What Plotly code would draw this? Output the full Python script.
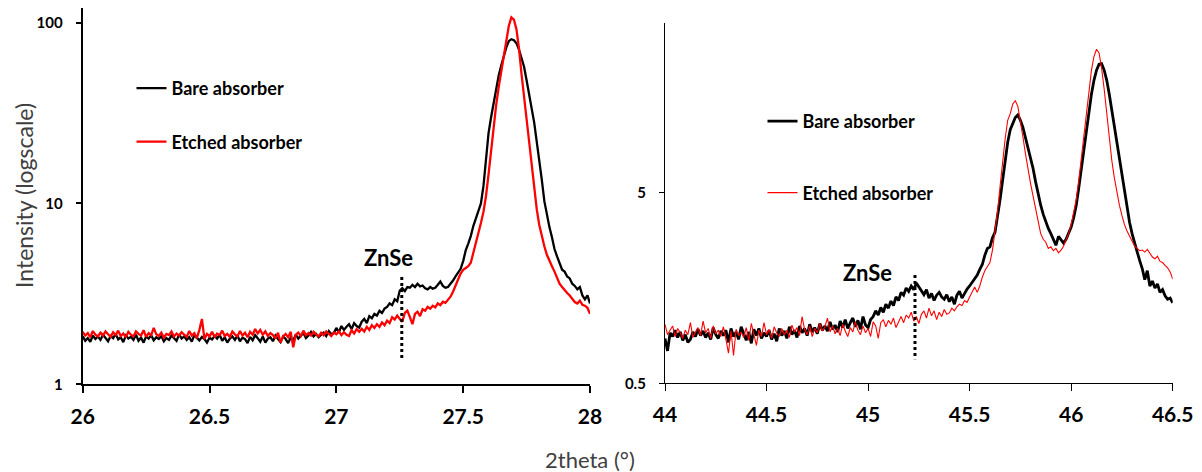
import numpy as np
import plotly.graph_objects as go

# ---------------- data ----------------
# Left panel: 2theta 26.00 .. 28.00, step 0.01
left_x_start, left_x_step = 26.0, 0.01
left_bare = [
    1.85,1.74,1.80,1.72,1.86,1.78,1.84,1.76,1.88,1.79,
    1.73,1.85,1.80,1.90,1.77,1.82,1.71,1.86,1.79,1.83,
    1.76,1.88,1.74,1.81,1.70,1.84,1.79,1.87,1.75,1.82,
    1.78,1.85,1.73,1.80,1.76,1.86,1.81,1.74,1.89,1.79,
    1.84,1.76,1.82,1.72,1.87,1.80,1.75,1.83,1.78,1.70,
    1.81,1.77,1.85,1.79,1.88,1.74,1.82,1.70,1.79,1.84,
    1.76,1.86,1.73,1.81,1.78,1.69,1.83,1.75,1.87,1.80,
    1.72,1.84,1.70,1.79,1.82,1.73,1.86,1.78,1.71,1.84,
    1.78,1.69,1.81,1.75,1.88,1.79,1.85,1.92,1.80,1.86,
    1.95,1.84,1.90,1.82,1.88,1.93,1.85,1.97,1.89,1.92,
    2.05,1.94,2.10,2.00,2.08,2.15,2.02,2.18,2.10,2.06,
    2.22,2.30,2.18,2.38,2.32,2.45,2.40,2.55,2.48,2.62,
    2.68,2.80,2.74,2.95,2.88,3.30,3.40,3.28,3.45,3.42,
    3.55,3.45,3.60,3.48,3.52,3.40,3.35,3.45,3.38,3.42,
    3.55,3.70,3.50,3.42,3.45,3.58,3.75,3.95,4.15,4.35,
    4.8,5.5,6.0,6.6,7.5,8.3,9.0,10.0,12.5,18.0,
    24.5,30,36,43,51,58,66,73,79,81,
    80,77,71,64,57,48,40,33,28,22,
    17.5,13.5,10.3,8.6,7.4,6.5,5.6,5.1,4.7,4.3,
    4.2,3.95,3.85,3.6,3.5,3.35,3.45,3.1,2.95,3.1,
    2.8,
]
left_etched = [
    1.95,1.86,1.92,1.82,1.97,1.88,1.84,1.93,1.86,1.96,
    1.89,1.83,1.94,1.87,1.98,1.85,1.91,1.82,1.95,1.88,
    1.84,1.96,1.90,1.86,1.99,1.83,1.92,1.87,2.05,1.89,
    1.85,1.93,1.81,1.90,1.87,1.96,1.84,1.91,1.86,1.94,
    1.88,1.83,1.97,1.86,1.92,1.80,2.00,2.30,1.78,1.90,
    1.84,1.95,1.82,1.91,1.87,1.98,1.85,1.90,1.83,1.96,
    1.89,1.84,1.97,1.86,1.93,1.82,1.95,1.88,2.02,1.91,
    2.00,1.88,1.96,1.85,1.92,1.87,1.79,1.93,1.70,1.84,
    1.90,1.82,1.95,1.60,1.88,1.93,1.85,1.98,1.87,1.92,
    1.86,1.95,1.89,1.84,1.93,1.87,1.96,1.90,1.85,1.93,
    1.89,1.96,1.87,1.94,1.88,1.85,1.99,1.91,2.02,1.95,
    2.03,1.96,2.08,2.00,2.12,2.05,2.15,2.08,2.20,2.12,
    2.25,2.18,2.35,2.28,2.40,2.30,2.22,2.48,2.55,2.35,
    2.15,2.45,2.52,2.38,2.60,2.55,2.68,2.62,2.72,2.66,
    2.80,2.74,2.86,2.82,2.95,3.05,3.25,3.55,3.80,4.10,
    4.3,4.4,4.5,4.7,5.3,6.0,6.8,7.8,9.0,11.0,
    14.5,20,27,35,44,53,63,78,96,107,
    104,92,72,52,39,29.5,22.5,17,12.5,9.3,
    7.6,6.6,5.8,5.2,4.8,4.5,4.2,3.9,3.6,3.45,
    3.3,3.2,3.1,2.95,2.85,2.8,2.9,2.75,2.72,2.65,
    2.45,
]

# Right panel: 2theta 44.00 .. 46.50, step 0.0125
right_x_start, right_x_step = 44.0, 0.0125
right_bare = [
    0.86,0.74,0.92,0.88,0.95,0.87,0.93,0.84,
    0.90,0.82,0.85,0.93,0.88,0.96,0.89,0.94,
    0.87,0.92,0.85,0.98,0.90,0.86,0.94,0.89,
    0.95,0.82,0.97,0.88,0.93,0.85,0.99,0.90,
    0.84,0.93,0.81,0.96,0.89,0.97,0.86,0.92,
    0.88,0.95,0.85,0.91,0.83,0.97,0.89,0.94,
    0.86,0.99,0.90,0.95,0.87,1.00,0.92,0.97,
    0.89,1.02,0.93,0.98,0.91,1.03,0.95,1.00,
    0.94,1.05,0.96,1.01,0.93,1.06,0.98,1.08,
    0.97,1.04,1.10,0.99,1.07,0.96,1.12,1.01,
    0.98,1.08,1.12,1.20,1.14,1.25,1.18,1.30,
    1.24,1.35,1.28,1.42,1.36,1.50,1.45,1.58,
    1.52,1.62,1.55,1.68,1.60,1.52,1.46,1.55,
    1.40,1.48,1.36,1.45,1.50,1.42,1.38,1.46,
    1.34,1.42,1.30,1.45,1.52,1.40,1.48,1.56,
    1.62,1.70,1.78,1.85,1.98,2.10,2.35,2.55,
    2.6,2.9,3.1,3.7,4.6,5.8,7.4,9.2,
    10.7,11.6,12.4,12.8,12.0,11.0,9.8,8.7,
    7.7,6.7,5.7,4.9,4.3,3.85,3.5,3.25,
    3.05,2.85,2.65,2.95,2.85,2.72,2.85,3.05,
    3.3,3.7,4.3,5.3,6.7,8.6,11.0,13.8,
    16.5,19.5,22.0,23.6,23.8,22.0,19.5,16.5,
    13.6,11.2,9.0,7.4,6.0,5.0,4.2,3.5,
    3.05,2.7,2.45,2.2,2.0,1.75,1.95,1.62,
    1.72,1.58,1.66,1.50,1.55,1.44,1.38,1.40,
    1.32,
]
right_etched = [
    1.02,0.90,0.95,1.00,0.88,0.97,0.92,0.86,
    0.95,0.90,1.04,0.87,0.93,0.98,0.89,1.06,
    0.92,0.97,0.86,1.00,0.91,0.95,0.88,0.99,
    0.85,0.72,0.94,0.70,0.96,0.89,0.93,0.87,
    0.98,0.84,1.03,0.91,0.79,0.95,0.88,1.04,
    0.90,0.96,0.86,0.99,0.92,0.88,0.97,0.90,
    0.95,0.87,1.01,0.93,0.98,0.89,1.12,0.96,
    0.90,1.00,0.88,0.97,0.92,1.03,0.94,0.99,
    1.10,0.93,1.00,0.91,0.97,0.89,1.02,0.94,
    0.88,0.98,0.93,1.05,0.95,0.90,1.00,0.92,
    0.97,0.88,1.05,1.00,0.86,1.04,1.08,0.99,
    1.07,1.02,1.10,0.98,1.06,1.12,1.04,1.14,
    1.10,1.18,1.06,1.12,1.03,1.15,1.20,1.10,
    1.24,1.13,1.20,1.08,1.18,1.12,1.22,1.15,
    1.17,1.24,1.20,1.26,1.30,1.28,1.36,1.33,
    1.42,1.52,1.60,1.50,1.62,1.80,1.95,2.05,
    2.15,2.50,3.10,4.0,5.4,7.3,9.6,12.0,
    13.0,14.6,15.2,14.2,12.0,9.8,8.0,6.6,
    5.6,4.8,4.1,3.5,3.05,2.85,2.75,2.55,
    2.6,2.48,2.55,2.42,2.5,2.62,2.8,3.05,
    3.4,3.9,4.6,5.8,7.5,10.0,13.2,17.5,
    22.0,26.0,28.3,27.0,22.5,17.5,13.0,9.6,
    7.4,6.0,5.0,4.3,3.8,3.4,3.15,2.95,
    2.8,2.62,2.55,2.48,2.50,2.44,2.52,2.40,
    2.30,2.25,2.32,2.18,2.15,2.08,2.02,1.92,
    1.76,
]

series_names = ["Bare absorber", "Etched absorber"]
left_x_ticks = [26, 26.5, 27, 27.5, 28]
left_y_ticks = [1, 10, 100]
right_x_ticks = [44, 44.5, 45, 45.5, 46, 46.5]
right_y_ticks = [0.5, 5, 50]

# ZnSe marker positions (2theta) and vertical extent of dotted markers
znse_left_x, znse_left_y = 27.258, [3.92, 1.36]
znse_right_x, znse_right_y = 45.231, [1.85, 0.668]
znse_label = "ZnSe"

# ---------------- figure ----------------
lx = np.round(left_x_start + left_x_step * np.arange(len(left_bare)), 4)
rx = np.round(right_x_start + right_x_step * np.arange(len(right_bare)), 4)

W, H = 1202, 472
OFF = 8  # page body margin offset
def px(v): return min(1.0, max(0.0, (v - OFF) / W))
def py(v): return min(1.0, max(0.0, 1 - (v - OFF) / H))

FONT = "Lato"
fig = go.Figure()

fig.add_trace(go.Scatter(x=lx, y=left_bare, name=series_names[0], mode="lines",
                         line=dict(color="#000000", width=2.3),
                         xaxis="x", yaxis="y", legend="legend", legendgroup="lb"))
fig.add_trace(go.Scatter(x=lx, y=left_etched, name=series_names[1], mode="lines",
                         line=dict(color="#ff0000", width=2.3),
                         xaxis="x", yaxis="y", legend="legend", legendgroup="le"))
fig.add_trace(go.Scatter(x=[znse_left_x, znse_left_x], y=znse_left_y, mode="lines",
                         line=dict(color="#000000", width=3, dash="dot"),
                         showlegend=False, xaxis="x", yaxis="y", hoverinfo="skip"))

fig.add_trace(go.Scatter(x=rx, y=right_bare, name=series_names[0], mode="lines",
                         line=dict(color="#000000", width=2.8),
                         xaxis="x2", yaxis="y2", legend="legend2", legendgroup="rb"))
fig.add_trace(go.Scatter(x=rx, y=right_etched, name=series_names[1], mode="lines",
                         line=dict(color="#ff0000", width=1.1),
                         xaxis="x2", yaxis="y2", legend="legend2", legendgroup="re"))
fig.add_trace(go.Scatter(x=[znse_right_x, znse_right_x], y=znse_right_y, mode="lines",
                         line=dict(color="#000000", width=3, dash="dot"),
                         showlegend=False, xaxis="x2", yaxis="y2", hoverinfo="skip"))

tickfont_x = dict(family=FONT, size=21, color="#000000", weight="bold")
tickfont_y = dict(family=FONT, size=15, color="#000000", weight="bold")

common_x = dict(showgrid=False, zeroline=False, showline=True, linecolor="#000000",
                ticks="outside", ticklen=7, tickcolor="#000000", tickfont=tickfont_x,
                ticklabelstandoff=5, automargin=False)
common_y = dict(type="log", showgrid=False, zeroline=False, showline=True,
                linecolor="#000000", ticks="outside", ticklen=5, tickcolor="#000000",
                tickfont=tickfont_y, ticklabelstandoff=10, automargin=False)

fig.update_layout(
    width=W, height=H,
    margin=dict(l=0, r=0, t=0, b=0, autoexpand=False),
    paper_bgcolor="white", plot_bgcolor="white",
    xaxis=dict(domain=[px(82.7), px(590)], range=[26, 28], anchor="y",
               tickvals=left_x_ticks, ticktext=[str(t) for t in left_x_ticks],
               linewidth=2, tickwidth=1.5, **common_x),
    yaxis=dict(domain=[py(384.3), py(8)], range=[0, 2.081], anchor="x",
               tickvals=left_y_ticks, ticktext=[str(t) for t in left_y_ticks],
               linewidth=2, tickwidth=1.5, **common_y),
    xaxis2=dict(domain=[px(665), px(1172.7)], range=[44, 46.5], anchor="y2",
                tickvals=right_x_ticks, ticktext=[str(t) for t in right_x_ticks],
                linewidth=1.3, tickwidth=1.2, **common_x),
    yaxis2=dict(domain=[py(383.3), py(23.3)], range=[np.log10(0.5), 1.588], anchor="x2",
                tickvals=right_y_ticks, ticktext=[str(t) for t in right_y_ticks],
                linewidth=1.3, tickwidth=1.2, **common_y),
    legend=dict(x=px(131.5), y=py(70), xanchor="left", yanchor="top",
                bgcolor="rgba(0,0,0,0)", borderwidth=0, traceorder="grouped",
                tracegroupgap=27,
                font=dict(family=FONT, size=18, color="#000000", weight="bold")),
    legend2=dict(x=px(762.5), y=py(103), xanchor="left", yanchor="top",
                 bgcolor="rgba(0,0,0,0)", borderwidth=0, traceorder="grouped",
                 tracegroupgap=45,
                 font=dict(family=FONT, size=18, color="#000000", weight="bold")),
    showlegend=True,
)

annotations = [
    dict(text=znse_label, x=27.207, y=0.699, xref="x", yref="y", showarrow=False,
         font=dict(family=FONT, size=22, color="#000000", weight="bold")),
    dict(text=znse_label, x=44.995, y=0.283, xref="x2", yref="y2", showarrow=False,
         font=dict(family=FONT, size=22, color="#000000", weight="bold")),
    dict(text="Intensity (logscale)", x=px(24), y=py(196), xref="paper", yref="paper",
         xanchor="center", yanchor="middle", showarrow=False, textangle=-90,
         font=dict(family=FONT, size=23, color="#404040")),
    dict(text="2theta (°)", x=px(590), y=py(459), xref="paper", yref="paper",
         xanchor="center", yanchor="middle", showarrow=False,
         font=dict(family=FONT, size=22, color="#404040")),
]
fig.update_layout(annotations=annotations)

fig.write_html("out.html")
